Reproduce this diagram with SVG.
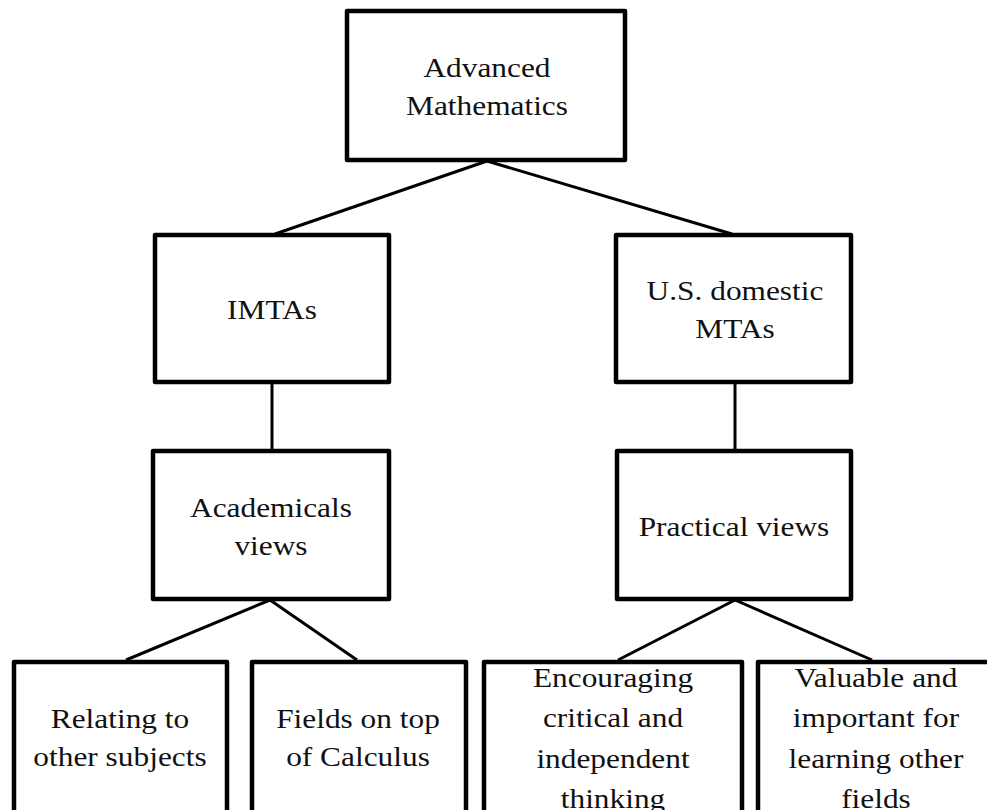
<svg xmlns="http://www.w3.org/2000/svg" width="987" height="810" viewBox="0 0 987 810">
  <style>
    .box { fill: #ffffff; stroke: #000000; stroke-width: 4.5; stroke-linejoin: round; }
    .link { fill: none; stroke: #000000; stroke-width: 3; }
    .label { font-family: "Liberation Serif", "Times New Roman", serif; font-size: 28px; fill: #111111; text-anchor: middle; }
  </style>
  <rect width="987" height="810" fill="#ffffff"/>

  <!-- connectors -->
  <g id="connectors">
    <line class="link" x1="487" y1="161" x2="275" y2="234"/>
    <line class="link" x1="487" y1="161" x2="732" y2="234"/>
    <line class="link" x1="272" y1="383" x2="272" y2="450"/>
    <line class="link" x1="735" y1="383" x2="735" y2="450"/>
    <line class="link" x1="270" y1="600" x2="126" y2="660"/>
    <line class="link" x1="270" y1="600" x2="357" y2="660"/>
    <line class="link" x1="735" y1="600" x2="618" y2="660"/>
    <line class="link" x1="735" y1="600" x2="872" y2="660"/>
  </g>

  <g id="advanced-mathematics">
    <rect class="box" x="347" y="11" width="278" height="149"/>
    <text class="label" transform="translate(487 77) scale(1.12 1)"><tspan x="0">Advanced</tspan><tspan x="0" dy="38">Mathematics</tspan></text>
  </g>

  <g id="imtas">
    <rect class="box" x="155" y="235" width="234" height="147"/>
    <text class="label" transform="translate(272 319) scale(1.12 1)">IMTAs</text>
  </g>

  <g id="us-domestic-mtas">
    <rect class="box" x="616" y="235" width="235" height="147"/>
    <text class="label" transform="translate(735 300) scale(1.12 1)"><tspan x="0">U.S. domestic</tspan><tspan x="0" dy="38">MTAs</tspan></text>
  </g>

  <g id="academicals-views">
    <rect class="box" x="153" y="451" width="236" height="148"/>
    <text class="label" transform="translate(271 517) scale(1.12 1)"><tspan x="0">Academicals</tspan><tspan x="0" dy="38">views</tspan></text>
  </g>

  <g id="practical-views">
    <rect class="box" x="617" y="451" width="234" height="148"/>
    <text class="label" transform="translate(734 536) scale(1.12 1)">Practical views</text>
  </g>

  <g id="relating-to-other-subjects">
    <rect class="box" x="14" y="662" width="213" height="170"/>
    <text class="label" transform="translate(120 728) scale(1.12 1)"><tspan x="0">Relating to</tspan><tspan x="0" dy="38">other subjects</tspan></text>
  </g>

  <g id="fields-on-top-of-calculus">
    <rect class="box" x="252" y="662" width="214" height="170"/>
    <text class="label" transform="translate(358 728) scale(1.12 1)"><tspan x="0">Fields on top</tspan><tspan x="0" dy="38">of Calculus</tspan></text>
  </g>

  <g id="encouraging-thinking">
    <rect class="box" x="484" y="662" width="258" height="170"/>
    <text class="label" transform="translate(613 687) scale(1.12 1)"><tspan x="0">Encouraging</tspan><tspan x="0" dy="40">critical  and</tspan><tspan x="0" dy="41">independent</tspan><tspan x="0" dy="40">thinking</tspan></text>
  </g>

  <g id="valuable-for-other-fields">
    <rect class="box" x="758" y="662" width="240" height="170"/>
    <text class="label" transform="translate(876 687) scale(1.12 1)"><tspan x="0">Valuable  and</tspan><tspan x="0" dy="40">important for</tspan><tspan x="0" dy="41">learning other</tspan><tspan x="0" dy="40">fields</tspan></text>
  </g>
</svg>
